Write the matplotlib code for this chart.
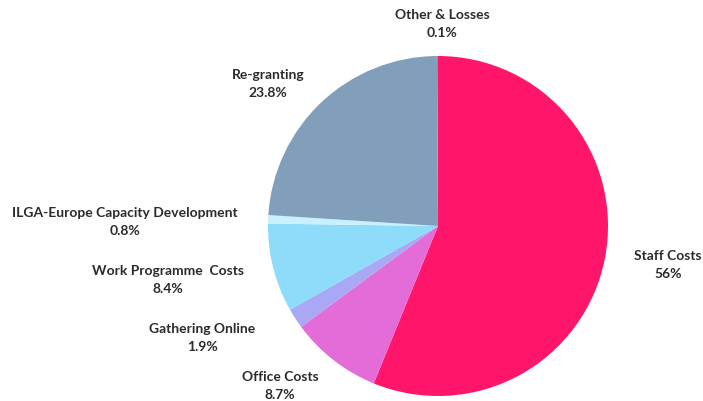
import matplotlib
matplotlib.use("Agg")
import matplotlib.pyplot as plt

categories = ["Staff Costs", "Office Costs", "Gathering Online", "Work Programme  Costs",
              "ILGA-Europe Capacity Development", "Re-granting", "Other & Losses"]
values = [56, 8.7, 1.9, 8.4, 0.8, 23.8, 0.1]
value_labels = ["56%", "8.7%", "1.9%", "8.4%", "0.8%", "23.8%", "0.1%"]
colors = ["#FF1569", "#E36CD9", "#A9A8F4", "#8EDBFA", "#C8F0FF", "#819FBA", "#F06090"]

# label anchor positions in pixel coordinates (layout)
label_pos = [(668, 265), (280, 386), (202, 338), (168, 280), (125, 222), (268, 84), (442, 24)]

W, H = 703, 401
fig = plt.figure(figsize=(W / 100, H / 100), dpi=100)
ax = fig.add_axes([0, 0, 1, 1])

wedges, _ = ax.pie(values, colors=colors, startangle=-90, counterclock=True,
                   center=(438, 226), radius=170, frame=True,
                   wedgeprops=dict(linewidth=0))
ax.set_xlim(0, W)
ax.set_ylim(H, 0)
ax.set_aspect("equal")
ax.axis("off")

for cat, vl, (x, y) in zip(categories, value_labels, label_pos):
    ax.text(x, y, cat + "\n" + vl, ha="center", va="center", fontsize=10,
            fontweight="bold", family="Lato", color="#2B2B2B", linespacing=1.65)

fig.savefig("out.png", dpi=100)
